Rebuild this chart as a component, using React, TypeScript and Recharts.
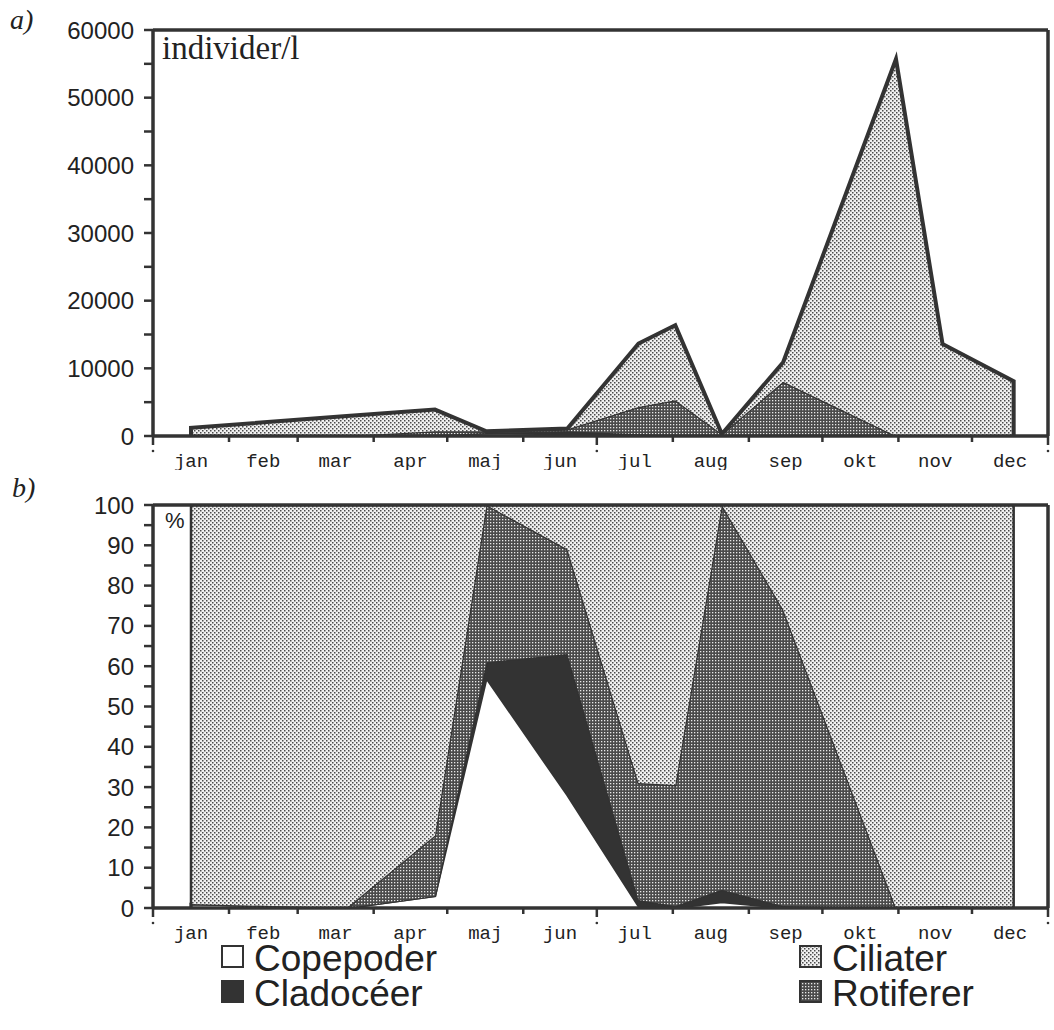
import { AreaChart, Area, XAxis, YAxis, ReferenceLine } from "recharts";

const MONTHS = ["jan", "feb", "mar", "apr", "maj", "jun", "jul", "aug", "sep", "okt", "nov", "dec"];
const MONTH_STARTS = [0, 31, 59, 90, 120, 151, 181, 212, 243, 273, 304, 334, 365];
// sampling days (day of year)
const SAMPLE_DAYS = [15.5, 79, 115, 136, 169, 198, 213, 232, 257, 303, 322, 351];

// a) individer/l
const TOP_COPEPODER = [10, 0, 100, 400, 300, 70, 0, 5, 0, 0, 70, 0];
const TOP_CLADOCEER = [0, 0, 0, 30, 390, 200, 80, 10, 50, 0, 0, 0];
const TOP_ROTIFERER = [0, 0, 600, 270, 290, 4000, 5200, 285, 7950, 0, 0, 0];
const TOP_CILIATER = [1190, 2950, 3200, 0, 120, 9400, 11100, 0, 2900, 55700, 13530, 8100];
const TOP_TICKS = [0, 5000, 10000, 15000, 20000, 25000, 30000, 35000, 40000, 45000, 50000, 55000, 60000];

// b) %
const PCT_COPEPODER = [1, 0, 3, 57, 28, 0.5, 0, 1.5, 0, 0, 0.5, 0];
const PCT_CLADOCEER = [0, 0, 0, 4, 35, 1.5, 0.5, 3, 0.5, 0, 0, 0];
const PCT_ROTIFERER = [0, 0, 15, 39, 26, 29, 30, 95.5, 73.5, 0, 0, 0];
const PCT_CILIATER = [99, 100, 82, 0, 11, 69, 69.5, 0, 26, 100, 99.5, 100];
const PCT_TICKS = [0, 5, 10, 15, 20, 25, 30, 35, 40, 45, 50, 55, 60, 65, 70, 75, 80, 85, 90, 95, 100];

const INK = "#333";
const PLOT_W = 895;
const SANS = "'Liberation Sans', Arial, Helvetica, sans-serif";
const MONO = "'Liberation Mono', 'Courier New', monospace";
const SERIF = "'Liberation Serif', 'Times New Roman', serif";

function buildRows(cope: number[], clad: number[], rot: number[], cil: number[]) {
  const zero = { cope: 0, clad: 0, rot: 0, cil: 0 };
  const rows = SAMPLE_DAYS.map((day, i) => ({
    day,
    cope: cope[i],
    clad: clad[i],
    rot: rot[i],
    cil: cil[i],
  }));
  // closing rows so the areas get vertical edges at first/last sample
  return [{ day: SAMPLE_DAYS[0], ...zero }, ...rows, { day: SAMPLE_DAYS[SAMPLE_DAYS.length - 1], ...zero }];
}

const topRows = buildRows(TOP_COPEPODER, TOP_CLADOCEER, TOP_ROTIFERER, TOP_CILIATER);
const pctRows = buildRows(PCT_COPEPODER, PCT_CLADOCEER, PCT_ROTIFERER, PCT_CILIATER);

function Patterns({ prefix }: { prefix: string }) {
  return (
    <defs>
      <pattern id={`${prefix}-light`} width="4" height="4" patternUnits="userSpaceOnUse">
        <rect width="4" height="4" fill="#f0f0f0" />
        <rect x="0" y="0" width="1.5" height="1.5" fill="#4a4a4a" />
        <rect x="2" y="2" width="1.5" height="1.5" fill="#4a4a4a" />
      </pattern>
      <pattern id={`${prefix}-dark`} width="3" height="3" patternUnits="userSpaceOnUse">
        <rect width="3" height="3" fill="#4a4a4a" />
        <rect x="1" y="1" width="1.3" height="1.3" fill="#e8e8e8" />
      </pattern>
    </defs>
  );
}

function MonthTick(props: any) {
  const { x, y, index } = props;
  const big = index === 0 || index === 6 || index === 12;
  const els = [];
  if (big) {
    els.push(<line key="l" x1={x} y1={y} x2={x} y2={y + 9} stroke={INK} strokeWidth={2.5} />);
    els.push(<circle key="d" cx={x} cy={y + 15} r={1.3} fill={INK} />);
  } else {
    els.push(<line key="l" x1={x} y1={y} x2={x} y2={y + 6} stroke={INK} strokeWidth={2.5} />);
  }
  if (index < 12) {
    const half = ((MONTH_STARTS[index + 1] - MONTH_STARTS[index]) * PLOT_W) / 365 / 2;
    els.push(
      <text key="t" x={x + half} y={y + 31} textAnchor="middle" fontFamily={MONO} fontSize={19} fill="#222">
        {MONTHS[index]}
      </text>
    );
  }
  return <g>{els}</g>;
}

const yTickStyle = { fill: "#222", fontSize: 24, fontFamily: SANS };

function Series({ prefix, outer }: { prefix: string; outer: number }) {
  return [
    <Area key="cope" type="linear" dataKey="cope" stackId="s" fill="#fff" fillOpacity={1} stroke={INK} strokeWidth={2.5} isAnimationActive={false} dot={false} activeDot={false} />,
    <Area key="clad" type="linear" dataKey="clad" stackId="s" fill="#333" fillOpacity={1} stroke={INK} strokeWidth={2.5} isAnimationActive={false} dot={false} activeDot={false} />,
    <Area key="rot" type="linear" dataKey="rot" stackId="s" fill={`url(#${prefix}-dark)`} fillOpacity={1} stroke={INK} strokeWidth={2.5} isAnimationActive={false} dot={false} activeDot={false} />,
    <Area key="cil" type="linear" dataKey="cil" stackId="s" fill={`url(#${prefix}-light)`} fillOpacity={1} stroke={INK} strokeWidth={outer} isAnimationActive={false} dot={false} activeDot={false} />,
  ];
}

function LegendBox() {
  const top = 940;
  const items = [
    { x: 222, y: 946, label: "Copepoder", fill: "#fff" },
    { x: 222, y: 981, label: "Cladocéer", fill: "#333" },
    { x: 800, y: 946, label: "Ciliater", fill: "url(#lg-light)" },
    { x: 800, y: 981, label: "Rotiferer", fill: "url(#lg-dark)" },
  ];
  return (
    <svg width={1054} height={90} style={{ position: "absolute", left: 0, top }}>
      <Patterns prefix="lg" />
      {items.map((it) => (
        <g key={it.label}>
          <rect x={it.x} y={it.y - top} width={21} height={21} fill={it.fill} stroke={INK} strokeWidth={2} />
          <text x={it.x + 32} y={it.y - top + 25} fontFamily={SANS} fontSize={37} fill="#222">
            {it.label}
          </text>
        </g>
      ))}
    </svg>
  );
}

export default function App() {
  return (
    <div style={{ position: "absolute", left: 0, top: 0, width: 1054, height: 1030, background: "#fff" }}>
      <AreaChart width={1054} height={470} data={topRows} margin={{ top: 30, right: 6, left: 0, bottom: 0 }}>
        <Patterns prefix="pa" />
        <XAxis
          dataKey="day"
          type="number"
          domain={[0, 365]}
          ticks={MONTH_STARTS}
          interval={0}
          height={34}
          tickSize={0}
          tickMargin={0}
          tick={<MonthTick />}
          axisLine={{ stroke: INK, strokeWidth: 3.5 }}
          allowDataOverflow
        />
        <YAxis
          type="number"
          domain={[0, 60000]}
          ticks={TOP_TICKS}
          interval={0}
          width={153}
          tickSize={9}
          tickMargin={10}
          tickFormatter={(v: number) => (v % 10000 === 0 ? String(v) : "")}
          tick={yTickStyle}
          tickLine={{ stroke: INK, strokeWidth: 2.5 }}
          axisLine={{ stroke: INK, strokeWidth: 3.5 }}
          allowDataOverflow
        />
        {Series({ prefix: "pa", outer: 4 })}
        <ReferenceLine y={60000} stroke={INK} strokeWidth={3.5} />
        <ReferenceLine x={365} stroke={INK} strokeWidth={3.5} />
      </AreaChart>

      <div style={{ position: "absolute", left: 0, top: 470 }}>
        <AreaChart width={1054} height={480} data={pctRows} margin={{ top: 35, right: 6, left: 0, bottom: 0 }}>
          <Patterns prefix="pb" />
          <XAxis
            dataKey="day"
            type="number"
            domain={[0, 365]}
            ticks={MONTH_STARTS}
            interval={0}
            height={42}
            tickSize={0}
            tickMargin={0}
            tick={<MonthTick />}
            axisLine={{ stroke: INK, strokeWidth: 3.5 }}
            allowDataOverflow
          />
          <YAxis
            type="number"
            domain={[0, 100]}
            ticks={PCT_TICKS}
            interval={0}
            width={153}
            tickSize={9}
            tickMargin={10}
            tickFormatter={(v: number) => (v % 10 === 0 ? String(v) : "")}
            tick={yTickStyle}
            tickLine={{ stroke: INK, strokeWidth: 2.5 }}
            axisLine={{ stroke: INK, strokeWidth: 3.5 }}
            allowDataOverflow
          />
          {Series({ prefix: "pb", outer: 2.5 })}
          <ReferenceLine y={100} stroke={INK} strokeWidth={3.5} />
          <ReferenceLine x={365} stroke={INK} strokeWidth={3.5} />
        </AreaChart>
      </div>

      <div style={{ position: "absolute", left: 10, top: 4, fontFamily: SERIF, fontStyle: "italic", fontSize: 28, color: "#222" }}>a)</div>
      <div style={{ position: "absolute", left: 12, top: 472, fontFamily: SERIF, fontStyle: "italic", fontSize: 28, color: "#222" }}>b)</div>
      <div style={{ position: "absolute", left: 162, top: 30, fontFamily: SERIF, fontSize: 33, color: "#222" }}>individer/l</div>
      <div style={{ position: "absolute", left: 165, top: 508, fontFamily: SANS, fontSize: 22, color: "#222" }}>%</div>

      <LegendBox />
    </div>
  );
}
